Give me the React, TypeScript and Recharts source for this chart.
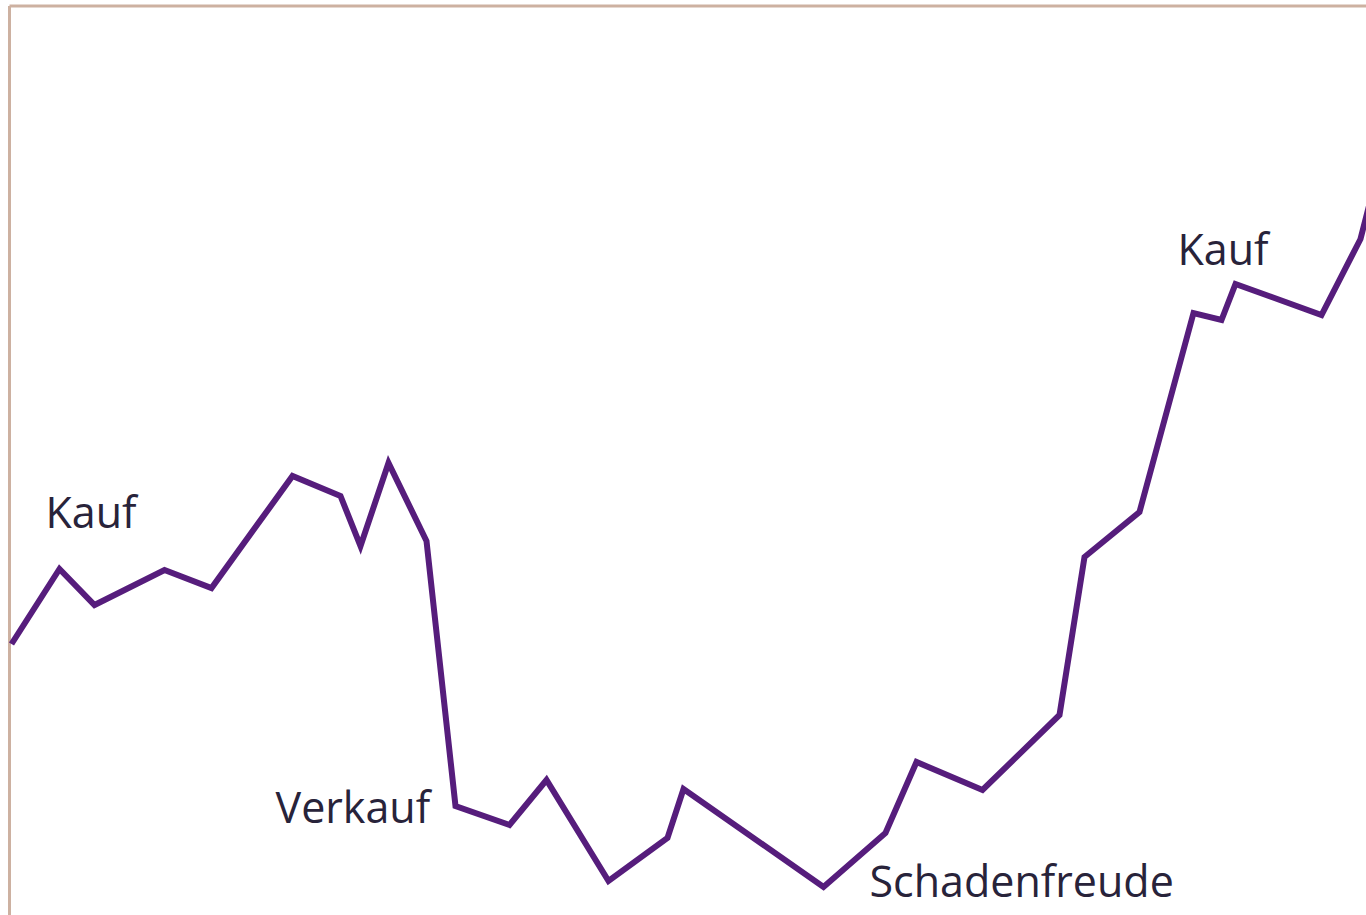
import React from "react";
import { LineChart, Line, XAxis, YAxis, ReferenceDot, ReferenceLine } from "recharts";

const days = [2, 50, 85, 155, 202, 283, 331, 351, 379, 417, 446, 500, 537, 599, 658, 674, 814, 876, 907, 973, 1050, 1075, 1130, 1184, 1212, 1226, 1312, 1351, 1362];
const prices = [36.2, 43.7, 40.1, 43.6, 41.8, 53.0, 51.0, 46.0, 54.3, 46.5, 20.0, 18.1, 22.6, 12.5, 16.8, 21.7, 11.9, 17.3, 24.4, 21.6, 29.1, 44.9, 49.4, 69.3, 68.6, 72.2, 69.1, 76.7, 81.0];

const labelTexts = ["Kauf", "Verkauf", "Schadenfreude", "Kauf"];
const labelDays = [36, 266, 860, 1168];
const labelPrices = [47.8, 18.3, 10.9, 74.1];

const data = days.map((d, i) => ({ day: d, price: prices[i] }));

const LINE = "#561d7c";
const BORDER = "#cdb1a1";
const TEXT = "#28233a";

const makeLabel = (text: string) => (props: any) => {
  const vb = props.viewBox || {};
  const x = vb.x + (vb.width || 0) / 2;
  const y = vb.y + (vb.height || 0) / 2;
  return (
    <text x={x} y={y} fill={TEXT} fontSize={43} fontFamily="'Open Sans', sans-serif" textAnchor="start">
      {text}
    </text>
  );
};

export default function App() {
  return (
    <div style={{ position: "fixed", left: 0, top: 0, width: 1366, height: 915, overflow: "hidden", background: "#fff" }}>
      <LineChart width={1410} height={1006} data={data} margin={{ top: 6, left: 9.5, right: 0.5, bottom: 0 }}>
        <XAxis dataKey="day" type="number" domain={[0, 1400]} hide />
        <YAxis type="number" domain={[0, 100]} hide />
        <ReferenceLine y={100} stroke={BORDER} strokeWidth={3} ifOverflow="visible" />
        <ReferenceLine x={0} stroke={BORDER} strokeWidth={3} ifOverflow="visible" />
        <Line
          dataKey="price"
          stroke={LINE}
          strokeWidth={6}
          dot={false}
          activeDot={false}
          strokeLinejoin="miter"
          strokeLinecap="butt"
          type="linear"
          isAnimationActive={false}
        />
        {labelTexts.map((t, i) => (
          <ReferenceDot
            key={i}
            x={labelDays[i]}
            y={labelPrices[i]}
            r={0}
            fill="none"
            stroke="none"
            ifOverflow="visible"
            label={makeLabel(t)}
          />
        ))}
      </LineChart>
    </div>
  );
}
